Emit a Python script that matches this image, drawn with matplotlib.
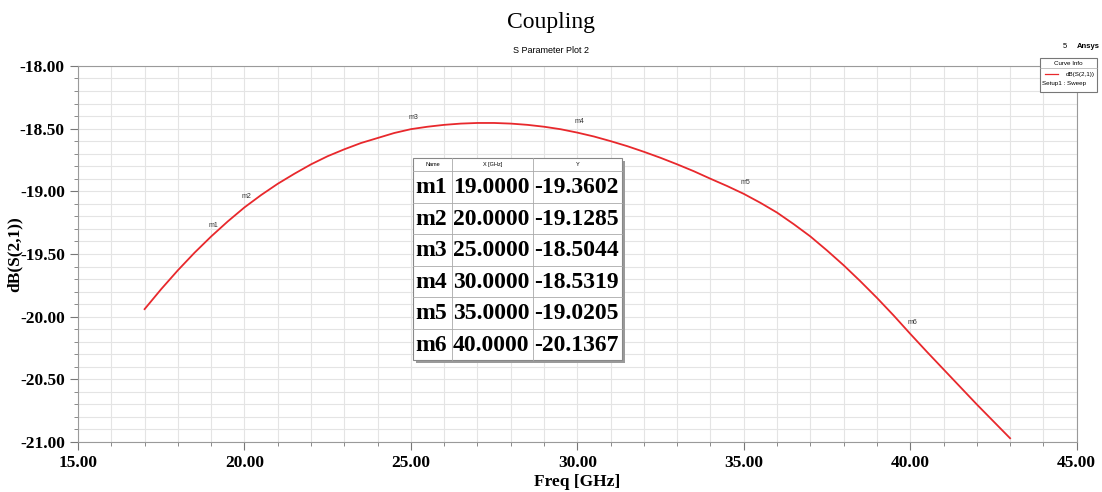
import matplotlib
matplotlib.use("Agg")
import matplotlib.pyplot as plt
from matplotlib.ticker import MultipleLocator, FormatStrFormatter
from matplotlib.patches import Rectangle

# curve, 0.5 GHz steps
freq = [17, 17.5, 18, 18.5, 19, 19.5, 20, 20.5, 21, 21.5, 22, 22.5, 23, 23.5, 24, 24.5,
        25, 25.5, 26, 26.5, 27, 27.5, 28, 28.5, 29, 29.5, 30, 30.5, 31, 31.5, 32, 32.5,
        33, 33.5, 34, 34.5, 35, 35.5, 36, 36.5, 37, 37.5, 38, 38.5, 39, 39.5, 40, 40.5,
        41, 41.5, 42, 42.5, 43]
s21_db = [-19.94, -19.78, -19.63, -19.49, -19.3602, -19.24, -19.1285, -19.03, -18.94, -18.86,
          -18.785, -18.72, -18.665, -18.615, -18.575, -18.535, -18.5044, -18.485, -18.47,
          -18.46, -18.455, -18.455, -18.46, -18.47, -18.485, -18.505, -18.5319, -18.563,
          -18.600, -18.64, -18.685, -18.733, -18.785, -18.84, -18.900, -18.958, -19.0205,
          -19.092, -19.17, -19.262, -19.36, -19.472, -19.59, -19.717, -19.85, -19.99,
          -20.1367, -20.28, -20.42, -20.56, -20.70, -20.835, -20.97]

marker_names = ["m1", "m2", "m3", "m4", "m5", "m6"]
marker_x = [19.0, 20.0, 25.0, 30.0, 35.0, 40.0]
marker_y = [-19.3602, -19.1285, -18.5044, -18.5319, -19.0205, -20.1367]

serif = ["Liberation Serif", "DejaVu Serif"]
sans = ["Liberation Sans", "DejaVu Sans"]

fig = plt.figure(figsize=(11.02, 4.92), dpi=100)
ax = fig.add_axes([0.0708, 0.1016, 0.9062, 0.7644])

ax.plot(freq, s21_db, color="#e8282c", lw=1.3, zorder=3)

ax.set_xlim(15, 45)
ax.set_ylim(-21, -18)
ax.xaxis.set_major_locator(MultipleLocator(5))
ax.xaxis.set_minor_locator(MultipleLocator(1))
ax.yaxis.set_major_locator(MultipleLocator(0.5))
ax.yaxis.set_minor_locator(MultipleLocator(0.1))
ax.xaxis.set_major_formatter(FormatStrFormatter("%.2f"))
ax.yaxis.set_major_formatter(FormatStrFormatter("%.2f"))
ax.grid(which="both", color="#e4e4e4", lw=0.8, zorder=0)
for sp in ax.spines.values():
    sp.set_color("#9a9a9a")
ax.tick_params(which="major", length=6, color="#777777", direction="out")
ax.tick_params(which="minor", length=3, color="#777777", direction="out")
for lab in ax.get_xticklabels() + ax.get_yticklabels():
    lab.set_fontfamily(serif)
    lab.set_fontweight("bold")
    lab.set_fontsize(12.5)
ax.set_xlabel("Freq [GHz]", fontfamily=serif, fontweight="bold", fontsize=12.5, labelpad=2)
ax.set_ylabel("dB(S(2,1))", fontfamily=serif, fontweight="bold", fontsize=12.5, labelpad=-2)

# marker labels
for name, mx, my in zip(marker_names, marker_x, marker_y):
    ax.annotate(name, (mx, my), xytext=(-2, 7), textcoords="offset points",
                fontsize=5, fontfamily=sans, color="#333333", zorder=4)

# titles
fig.text(0.5, 0.955, "Coupling", ha="center", va="center", fontfamily=serif, fontsize=17)
fig.text(0.5, 0.898, "S Parameter Plot 2", ha="center", va="center", fontfamily=sans, fontsize=6.5)
fig.text(0.966, 0.905, "5", ha="center", va="center", fontfamily=sans, fontsize=5.5)
fig.text(0.988, 0.905, "Ansys", ha="center", va="center", fontfamily=sans, fontsize=5.5, fontweight="bold")

# curve info box
fig.patches.append(Rectangle((0.9437, 0.813), 0.0517, 0.07, transform=fig.transFigure,
                             facecolor="white", edgecolor="#777777", lw=0.8, zorder=5))
fig.text(0.969, 0.870, "Curve Info", ha="center", va="center", fontfamily=sans, fontsize=4.5, zorder=6)
fig.lines.append(plt.Line2D([0.9437, 0.9954], [0.861, 0.861], transform=fig.transFigure,
                            color="#aaaaaa", lw=0.5, zorder=6))
fig.lines.append(plt.Line2D([0.948, 0.960], [0.849, 0.849], transform=fig.transFigure,
                            color="#e8282c", lw=0.9, zorder=6))
fig.text(0.993, 0.849, "dB(S(2,1))", ha="right", va="center", fontfamily=sans, fontsize=4.5, zorder=6)
fig.text(0.946, 0.830, "Setup1 : Sweep", ha="left", va="center", fontfamily=sans, fontsize=4.5, zorder=6)

# marker table
col_labels = ["Name", "X [GHz]", "Y"]
col_w = [39, 81, 89]
x0, y_top = 413, 158
head_h, row_h = 13, 31.5
W, H = 1102, 492
total_w = sum(col_w)
total_h = head_h + row_h * len(marker_names)

def fx(px):
    return px / W

def fy(py):
    return 1 - py / H

fig.patches.append(Rectangle((fx(x0 + 3), fy(y_top + total_h + 3)), total_w / W, total_h / H,
                             transform=fig.transFigure, facecolor="#9a9a9a", edgecolor="none", zorder=6))
fig.patches.append(Rectangle((fx(x0), fy(y_top + total_h)), total_w / W, total_h / H,
                             transform=fig.transFigure, facecolor="white", edgecolor="#888888",
                             lw=0.8, zorder=7))
cx = x0
for i, w in enumerate(col_w):
    fig.text(fx(cx + w / 2), fy(y_top + head_h / 2), col_labels[i], ha="center", va="center",
             fontfamily=sans, fontsize=4, zorder=8)
    if i > 0:
        fig.lines.append(plt.Line2D([fx(cx), fx(cx)], [fy(y_top), fy(y_top + total_h)],
                                    transform=fig.transFigure, color="#aaaaaa", lw=0.6, zorder=8))
    cx += w
for r in range(len(marker_names)):
    yl = y_top + head_h + r * row_h
    fig.lines.append(plt.Line2D([fx(x0), fx(x0 + total_w)], [fy(yl), fy(yl)],
                                transform=fig.transFigure, color="#aaaaaa", lw=0.6, zorder=8))
    cells = [marker_names[r], "%.4f" % marker_x[r], "%.4f" % marker_y[r]]
    yc = fy(yl + row_h / 2 + 1)
    fig.text(fx(x0 + 2), yc, cells[0], ha="left", va="center", fontfamily=serif,
             fontweight="bold", fontsize=17, zorder=8)
    fig.text(fx(x0 + col_w[0] + 1), yc, cells[1], ha="left", va="center", fontfamily=serif,
             fontweight="bold", fontsize=17, zorder=8)
    fig.text(fx(x0 + col_w[0] + col_w[1] + 1), yc, cells[2], ha="left", va="center",
             fontfamily=serif, fontweight="bold", fontsize=17, zorder=8)

fig.savefig("out.png", dpi=100)
